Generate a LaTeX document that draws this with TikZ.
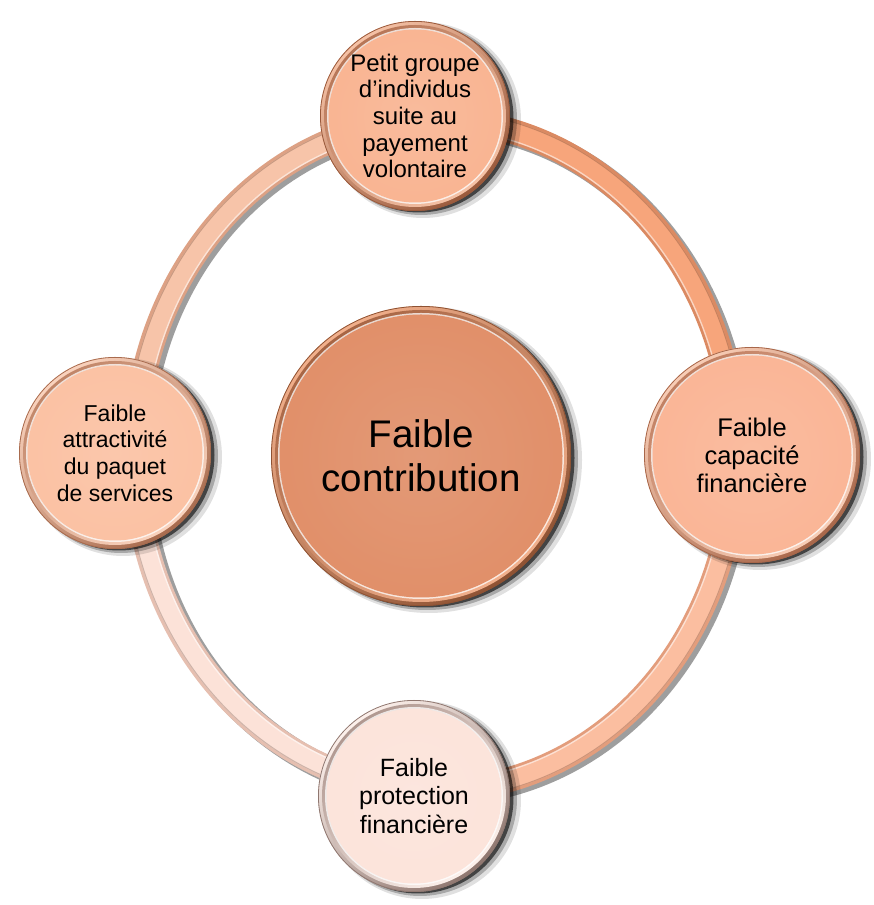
\documentclass[tikz,border=0pt]{standalone}
\usepackage{fontspec}
\setmainfont{Liberation Sans}
\usetikzlibrary{calc}
\pgfdeclarelayer{bg}
\pgfsetlayers{bg,main}
% ring colours
\definecolor{urFace}{HTML}{F7A57B}\definecolor{urEdge}{HTML}{DB8A62}
\definecolor{ulFace}{HTML}{F7C4A9}\definecolor{ulEdge}{HTML}{DDA184}
\definecolor{llFace}{HTML}{FCE2D8}\definecolor{llEdge}{HTML}{E6BFB0}
\definecolor{lrFace}{HTML}{FBBEA0}\definecolor{lrEdge}{HTML}{E39D7C}
% button colours
\definecolor{topFace}{HTML}{F9B593}\definecolor{topLight}{HTML}{F6C2A6}\definecolor{topDark}{HTML}{9A5A3C}
\definecolor{cenFace}{HTML}{E1906A}\definecolor{cenLight}{HTML}{F2B08C}\definecolor{cenDark}{HTML}{8E5233}
\definecolor{rgtFace}{HTML}{FAB697}\definecolor{rgtLight}{HTML}{F8CDB6}\definecolor{rgtDark}{HTML}{A8674A}
\definecolor{lftFace}{HTML}{FBC2A4}\definecolor{lftLight}{HTML}{FAD3BE}\definecolor{lftDark}{HTML}{A86B4E}
\definecolor{botFace}{HTML}{FCE4DB}\definecolor{botLight}{HTML}{FDF1EC}\definecolor{botDark}{HTML}{8F7770}
\newcommand\ringarc[4]{%
  \draw[black, opacity=.38, line width=26pt] ($(c)+(#1:300 and 335)+(4,-3)$) arc[start angle=#1, end angle=#2, x radius=300, y radius=335];
  \draw[#3, line width=25pt] ($(c)+(#1:300 and 335)$) arc[start angle=#1, end angle=#2, x radius=300, y radius=335];
  \draw[#4, line width=19pt] ($(c)+(#1:300 and 335)$) arc[start angle=#1, end angle=#2, x radius=300, y radius=335];
  \draw[white, opacity=.55, line width=1.4pt] ($(c)+(#1:291 and 326)$) arc[start angle=#1, end angle=#2, x radius=291, y radius=326];
  \draw[#3!70!black, opacity=.5, line width=1pt] ($(c)+(#1:309 and 344)$) arc[start angle=#1, end angle=#2, x radius=309, y radius=344];
}
\newcommand\mybutton[5]{% name, radius, light, dark, face
  \fill[black, opacity=.12] ($(#1.center)+(8,-4)$) circle[radius={#2+3}];
  \fill[black, opacity=.25] ($(#1.center)+(6,-3)$) circle[radius={#2+1}];
  \fill[black, opacity=.6] ($(#1.center)+(4,-2)$) circle[radius={#2-0.5}];
  \shade[top color=#3, bottom color=#4, shading angle=40] (#1.center) circle[radius=#2];
  \draw[#4, line width=0.8pt] (#1.center) circle[radius={#2-0.4}];
  \shade[top color=#4!70!#5, bottom color=#3, shading angle=40] (#1.center) circle[radius={#2-4}];
  \fill[white, opacity=.75] (#1.center) circle[radius={#2-7}];
  \fill[#5] (#1.center) circle[radius={#2-8.5}];
  \shade[inner color=#5!85!white, outer color=#5, opacity=.6] (#1.center) circle[radius={#2-9}];
}
\tikzset{
  txt/.style={circle, align=center, inner sep=0pt, text=black},
}
\begin{document}
\begin{tikzpicture}[x=1pt,y=1pt]
\useasboundingbox (0,0) rectangle (874,905);
\coordinate (c) at (435,450);
\node[txt, minimum size=190pt, font=\fontsize{24}{26.6}\selectfont] (top) at (415,789) {Petit groupe\\d’individus\\suite au\\payement\\volontaire};
\node[txt, minimum size=300pt, font=\fontsize{38.5}{44}\selectfont] (cen) at (421,449) {Faible\\contribution};
\node[txt, minimum size=216pt, font=\fontsize{25.5}{28}\selectfont] (rgt) at (752,450) {Faible\\capacité\\financière};
\node[txt, minimum size=192pt, font=\fontsize{23}{26.6}\selectfont] (lft) at (115,452) {Faible\\attractivité\\du paquet\\de services};
\node[txt, minimum size=192pt, font=\fontsize{25}{28.5}\selectfont] (bot) at (414,109) {Faible\\protection\\financière};
\begin{pgfonlayer}{bg}
  \ringarc{93}{180}{ulEdge}{ulFace}
  \ringarc{180}{267}{llEdge}{llFace}
  \ringarc{267}{360}{lrEdge}{lrFace}
  \ringarc{0}{93}{urEdge}{urFace}
  \mybutton{top}{95}{topLight}{topDark}{topFace}
  \mybutton{rgt}{108}{rgtLight}{rgtDark}{rgtFace}
  \mybutton{bot}{96}{botLight}{botDark}{botFace}
  \mybutton{lft}{96}{lftLight}{lftDark}{lftFace}
  \mybutton{cen}{150}{cenLight}{cenDark}{cenFace}
\end{pgfonlayer}
\end{tikzpicture}
\end{document}
